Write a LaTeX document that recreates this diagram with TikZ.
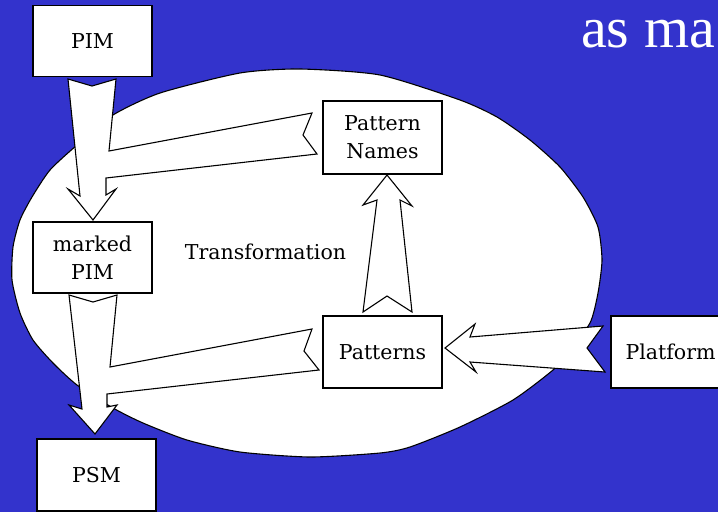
\documentclass[tikz,border=0pt]{standalone}
\usepackage{fontspec}
\setmainfont{DejaVu Serif}
\newfontfamily\titlefont{Liberation Serif}
\definecolor{bgblue}{RGB}{51,51,204}
\begin{document}
\begin{tikzpicture}[x=1pt,y=-1pt,
  box/.style={draw=black,line width=1.3pt,fill=white,minimum width=119pt,minimum height=71pt,inner sep=0pt,align=center,font=\fontsize{20.5}{28}\selectfont},
  blockarrow/.style={draw=black,line width=1.1pt,fill=white,line join=miter},
  lbl/.style={font=\fontsize{20.5}{28}\selectfont,inner sep=0pt}]
\clip (0,0) rectangle (718,512);
\fill[bgblue] (0,0) rectangle (718,512);
% title fragment
\node[anchor=base west,inner sep=0pt,text=white,font=\titlefont\fontsize{58}{60}\selectfont] (title) at (581,47) {as ma};
% transformation region
\draw[fill=white,line width=1.1pt] plot[smooth cycle,tension=0.4] coordinates {
 (300,69) (380,75) (460,100) (497,117) (530,140) (560,167) (583,197) (598,227)
 (602,260) (598,293) (590,323) (567,353) (553,370) (513,400) (460,427) (410,447)
 (380,453) (310,457) (240,452) (187,440) (143,423) (113,408) (77,385) (53,363)
 (33,340) (20,313) (12,280) (13,247) (20,220) (32,197) (50,170) (77,145)
 (113,115) (160,93) (240,73)};
% block arrows
\draw[blockarrow] (68,79) -- (92,86) -- (116,79) -- (109,151) -- (312,113) -- (303,135)
  -- (317,154) -- (106,178) -- (106,195) -- (116,189) -- (93,220) -- (68,189) -- (80,196) -- cycle;
\draw[blockarrow] (69,295) -- (93,302) -- (117,295) -- (110,367) -- (312,329) -- (304,351)
  -- (319,370) -- (107,394) -- (107,407) -- (117,405) -- (95,434) -- (69,405) -- (82,409) -- cycle;
\draw[blockarrow] (363,312) -- (387,296) -- (412,312) -- (400,200) -- (412,206) -- (387,175)
  -- (363,205) -- (377,200) -- cycle;
\draw[blockarrow] (445,348) -- (475,324) -- (470,337) -- (603,326) -- (587,348) -- (605,372)
  -- (470,362) -- (476,372) -- cycle;
% boxes
\node[box] (pim) at (92.5,41) {PIM};
\node[box] (mpim) at (92.5,257.5) {marked\\PIM};
\node[box,minimum height=72pt] (psm) at (96.5,475) {PSM};
\node[box,minimum height=73pt] (pnames) at (382.5,137.5) {Pattern\\Names};
\node[box,minimum height=72pt] (patterns) at (382.5,352) {Patterns};
\node[box,minimum height=72pt] (platform) at (670.5,352) {Platform};
\node[lbl] (trans) at (265.5,252) {Transformation};
\end{tikzpicture}
\end{document}
